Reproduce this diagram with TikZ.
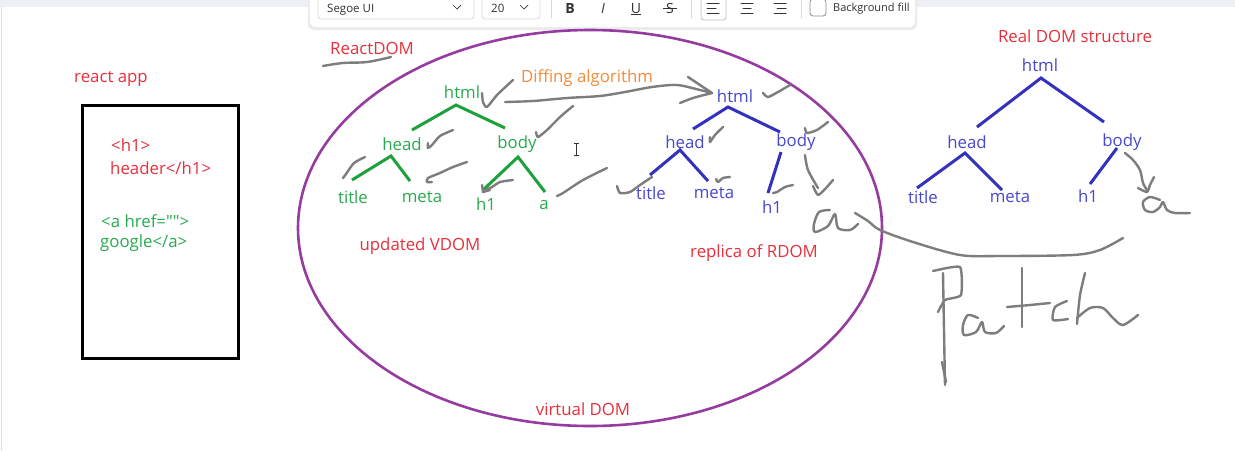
\documentclass[tikz,border=0pt]{standalone}
\usepackage{fontspec}
\setmainfont{Open Sans}[Ligatures=TeXOff]
\usetikzlibrary{calc,shapes.geometric}
\definecolor{rdred}{RGB}{232,48,60}
\definecolor{gtree}{RGB}{40,170,80}
\definecolor{gline}{RGB}{30,160,60}
\definecolor{btree}{RGB}{72,72,205}
\definecolor{bline}{RGB}{50,50,190}
\definecolor{orng}{RGB}{242,140,60}
\definecolor{purp}{RGB}{150,60,160}
\definecolor{handgray}{RGB}{125,125,125}
\definecolor{topband}{RGB}{238,240,246}
\definecolor{uigray}{RGB}{50,50,50}
\tikzset{
  lbl/.style={font=\fontsize{16.8}{20}\selectfont, inner sep=0pt},
  rl/.style={lbl,text=rdred},
  gn/.style={lbl,text=gtree},
  bn/.style={lbl,text=btree},
  gedge/.style={draw=gline,line width=3pt},
  bedge/.style={draw=bline,line width=3pt},
  hand/.style={draw=handgray,line width=2.4pt,line cap=round,line join=round},
  uitxt/.style={inner sep=0pt,text=uigray,font=\fontsize{11.5}{13}\selectfont},
  uibtn/.style={inner sep=0pt,text=uigray,font=\fontsize{14}{16}\selectfont},
  uibox/.style={draw=black!15,line width=0.8pt,rounded corners=3pt},
  uiicon/.style={draw=uigray,line width=1pt,line cap=round}
}
\begin{document}
\begin{tikzpicture}[x=1pt,y=-1pt]
\useasboundingbox (0,0) rectangle (1235,451);
\fill[white] (0,0) rectangle (1235,451);
\fill[topband] (0,0) rectangle (1235,7);
\draw[black!12,line width=1pt] (1,7) -- (1,451);

% ---------- toolbar ----------
\fill[black!8,rounded corners=6pt] (308,-10) rectangle (917,30);
\fill[white,rounded corners=6pt] (310,-10) rectangle (915,27);
\draw[uibox] (318,-6) rectangle (474,19);
\node[uitxt,anchor=base west] (fontname) at (327,12) {Segoe UI};
\draw[uiicon,line width=0.7pt] (453,5) -- (457,9) -- (461,5);
\draw[uibox] (482,-6) rectangle (540,19);
\node[uitxt,anchor=base west] (fontsize) at (491,12) {20};
\draw[uiicon,line width=0.7pt] (520,5) -- (524,9) -- (528,5);
\draw[black!15,line width=0.8pt] (551,0) -- (551,18) (691,0) -- (691,18) (801,0) -- (801,18);
\node[uibtn,anchor=base] (bbtn) at (570,13) {\textbf{B}};
\node[uibtn,anchor=base] (ibtn) at (603,13) {\textit{I}};
\node[uibtn,anchor=base] (ubtn) at (636,13) {\underline{U}};
\node[uibtn,anchor=base] (sbtn) at (670,13) {S};
\draw[uigray,line width=0.9pt] (663,8) -- (677,8);
\draw[draw=black!25,line width=0.8pt,rounded corners=3pt] (701,-4) rectangle (726,20);
\draw[uiicon] (707,3) -- (719,3) (707,8) -- (716,8) (707,13) -- (719,13);
\draw[uiicon] (741,3) -- (753,3) (743,8) -- (751,8) (741,13) -- (753,13);
\draw[uiicon] (774,3) -- (786,3) (777,8) -- (786,8) (774,13) -- (786,13);
\draw[draw=black!45,line width=0.8pt,rounded corners=3pt] (810,-1) rectangle (826,16);
\node[uitxt,anchor=base west,font=\fontsize{11}{12}\selectfont] (bgfill) at (833,11) {Background fill};

% ---------- react app ----------
\node[rl] (appl) at (111,79) {react app};
\node[draw=black,line width=3pt,minimum width=156pt,minimum height=253pt,inner sep=0pt] (app) at (160.5,231.5) {};
\node[rl,anchor=west] (h1a) at (111,145) {<h1>};
\node[rl,anchor=west] (h1b) at (110,168) {header</h1>};
\node[gn,anchor=west] (aa) at (101,221) {<a href="">};
\node[gn,anchor=west] (ab) at (100,243) {google</a>};

% ---------- virtual DOM ellipse ----------
\node[ellipse,draw=purp,line width=2.6pt,minimum width=584pt,minimum height=396pt,inner sep=0pt] (vdom) at (590,228) {};
\node[rl] (reactdom) at (372,48) {ReactDOM};
\node[rl] (vdoml) at (583,409) {virtual DOM};
\node[rl] (updl) at (420,246) {updated VDOM};
\node[rl] (repl) at (754,253) {replica of RDOM};
\node[lbl,text=orng] (diff) at (587,78) {Diffing algorithm};

% green tree
\node[gn] (gH) at (462,92) {html};
\node[gn] (gHead) at (402,144) {head};
\node[gn] (gBody) at (517,144) {body};
\node[gn] (gTitle) at (353,197) {title};
\node[gn] (gMeta) at (422,197) {meta};
\node[gn] (gH1) at (486,204) {h1};
\node[gn] (gA) at (544,205) {a};
\draw[gedge] ($(gHead)+(10,-14)$) -- ($(gH)+(-6,13)$) -- ($(gBody)+(-12,-16)$);
\draw[gedge] ($(gTitle)+(-1,-17)$) -- ($(gHead)+(-11,12)$) -- ($(gMeta)+(-12,-16)$);
\draw[gedge] ($(gH1)+(-3,-14)$) -- ($(gBody)+(1,13)$) -- ($(gA)+(1,-13)$);

% blue replica tree
\node[bn] (bH) at (735,96) {html};
\node[bn] (bHead) at (685,142) {head};
\node[bn] (bBody) at (796,142) {body};
\node[bn] (bTitle) at (651,193) {title};
\node[bn] (bMeta) at (714,193) {meta};
\node[bn] (bH1) at (772,207) {h1};
\draw[bedge] ($(bHead)+(8,-13)$) -- ($(bH)+(-7,11)$) -- ($(bBody)+(-16,-10)$);
\draw[bedge] ($(bTitle)+(-1,-18)$) -- ($(bHead)+(-5,8)$) -- ($(bMeta)+(-6,-12)$);
\draw[bedge] ($(bBody)+(-15,10)$) -- ($(bH1)+(-4,-14)$);

% ---------- real DOM ----------
\node[rl] (reall) at (1075,36) {Real DOM structure};
\node[bn] (rH) at (1040,65) {html};
\node[bn] (rHead) at (967,142) {head};
\node[bn] (rBody) at (1122,142) {body};
\node[bn] (rTitle) at (923,197) {title};
\node[bn] (rMeta) at (1010,197) {meta};
\node[bn] (rH1) at (1088,196) {h1};
\draw[bedge] ($(rHead)+(10,-15)$) -- ($(rH)+(1,13)$) -- ($(rBody)+(-18,-20)$);
\draw[bedge] ($(rTitle)+(-6,-9)$) -- ($(rHead)+(-2,11)$) -- ($(rMeta)+(-8,-7)$);
\draw[bedge] ($(rBody)+(-5,6)$) -- ($(rH1)+(2,-12)$);

% text cursor
\draw[uigray,line width=0.8pt] (576,143) -- (576,155) (573.5,143) -- (578.5,143) (573.5,155) -- (578.5,155);

% ---------- handwriting ----------
% ReactDOM underline
\draw[hand] plot[smooth,tension=0.6] coordinates {(323,66) (343,63) (367,62) (391,57)};
% green checks
\draw[hand] plot[smooth,tension=0.4] coordinates {(482,93) (483,102) (487,107) (497,95) (513,80)};
\draw[hand] plot[smooth,tension=0.4] coordinates {(573,106) (560,117) (547,130) (538,137) (536,132)};
\draw[hand] plot[smooth,tension=0.4] coordinates {(453,130) (440,136) (432,145) (428,148) (428,143)};
\draw[hand] plot[smooth,tension=0.4] coordinates {(365,157) (354,163) (346,174) (343,178)};
\draw[hand] plot[smooth,tension=0.4] coordinates {(467,162) (453,167) (440,173) (428,178) (427,182) (432,182)};
\draw[hand] plot[smooth,tension=0.4] coordinates {(513,180) (500,182) (492,187) (483,191)};
\draw[hand] (482,185) -- (483,192) -- (490,190);
\draw[hand] plot[smooth,tension=0.4] coordinates {(607,168) (583,180) (563,193) (557,196)};
% diffing arrow
\draw[hand] plot[smooth,tension=0.5] coordinates {(505,102) (533,101) (567,98) (600,96) (625,92) (652,87) (677,85) (700,90) (712,93)};
\draw[hand] plot[smooth,tension=0.4] coordinates {(688,77) (697,83) (712,93)};
\draw[hand] plot[smooth,tension=0.4] coordinates {(680,103) (693,98) (712,93)};
% blue checks
\draw[hand] plot[smooth,tension=0.4] coordinates {(617,186) (620,193) (630,192) (640,185) (652,177)};
\draw[hand] plot[smooth,tension=0.4] coordinates {(763,93) (768,97) (778,92) (790,85)};
\draw[hand] plot[smooth,tension=0.4] coordinates {(723,127) (715,135) (710,142) (710,137)};
\draw[hand] plot[smooth,tension=0.4] coordinates {(828,122) (817,130) (807,133) (805,128)};
\draw[hand] plot[smooth,tension=0.4] coordinates {(730,177) (723,178) (718,182) (716,179)};
\draw[hand] plot[smooth,tension=0.4] coordinates {(793,185) (785,187) (777,192) (773,193)};
\draw[hand] plot[smooth,tension=0.5] coordinates {(805,155) (808,170) (818,188)};
\draw[hand] plot[smooth,tension=0.4] coordinates {(813,186) (818,195) (826,188) (833,180)};
% scribbled "a" near ellipse
\draw[hand] plot[smooth,tension=0.5] coordinates {(830,210) (819,212) (814,224) (815,232) (828,226) (835,214) (838,228) (850,230) (858,224)};
% patch curve
\draw[hand] plot[smooth,tension=0.5] coordinates {(855,213) (868,221) (880,230) (913,242) (960,255) (1000,256) (1073,255) (1100,250) (1123,238)};
% real DOM body -> a
\draw[hand] plot[smooth,tension=0.5] coordinates {(1125,153) (1133,160) (1140,170) (1143,183) (1147,190)};
\draw[hand] plot[smooth,tension=0.4] coordinates {(1138,188) (1147,192) (1150,185) (1154,177)};
\draw[hand] plot[smooth,tension=0.5] coordinates {(1160,200) (1150,197) (1143,202) (1145,210) (1153,212) (1160,207) (1163,202) (1167,210) (1175,213) (1190,213)};
% Patch
\draw[hand] plot[smooth,tension=0.3] coordinates {(943,273) (944,330) (945,385)};
\draw[hand] (942,362) -- (946,382);
\draw[hand] plot[smooth,tension=0.3] coordinates {(933,271) (960,267) (961,295) (945,300) (938,312)};
\draw[hand] plot[smooth,tension=0.5] coordinates {(978,318) (968,315) (963,325) (964,335) (976,332) (982,322) (985,332) (996,333) (1004,326)};
\draw[hand] (1022,268) -- (1022,327);
\draw[hand] plot[smooth,tension=0.4] coordinates {(1007,307) (1030,305) (1050,303)};
\draw[hand] plot[smooth,tension=0.4] coordinates {(1067,301) (1055,307) (1053,320) (1068,319)};
\draw[hand] plot[smooth,tension=0.4] coordinates {(1085,273) (1080,295) (1077,324)};
\draw[hand] plot[smooth,tension=0.5] coordinates {(1077,318) (1090,308) (1103,308) (1113,318) (1123,325) (1138,315)};
\end{tikzpicture}
\end{document}
